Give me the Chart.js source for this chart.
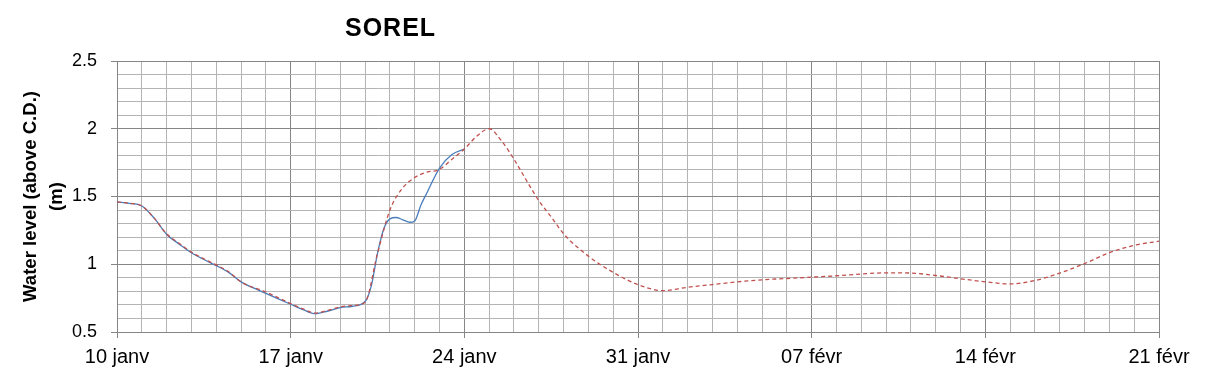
<!DOCTYPE html>
<html>
<head>
<meta charset="utf-8">
<script src="https://cdn.jsdelivr.net/npm/chart.js@4.4.1/dist/chart.umd.min.js"></script>
<style>
  html, body { margin: 0; padding: 0; background: #ffffff; }
  #wrap { position: relative; width: 1209px; height: 378px; }
  #title { position: absolute; left: 345px; top: 15px; margin: 0; font: bold 25px "Liberation Sans", Arial, sans-serif; line-height: 25px; letter-spacing: 1px; color: #000; }
  canvas { position: absolute; left: 0; top: 0; }
</style>
</head>
<body>
<div id="wrap">
  <canvas id="c" width="1209" height="378"></canvas>
  <div id="title">SOREL</div>
</div>
<script>
// Days since 10 janv
const dateLabels = ['10 janv', '17 janv', '24 janv', '31 janv', '07 févr', '14 févr', '21 févr'];

const observedDays   = [0, 0.5, 1, 1.5, 2, 2.5, 3, 3.5, 4, 4.5, 5, 5.5, 6, 6.5, 7, 7.5, 8, 8.5, 9, 9.5, 10, 10.25, 10.5, 10.75, 11, 11.25, 11.5, 11.8, 12, 12.25, 12.5, 13, 13.5, 14];
const observedLevels = [1.46, 1.45, 1.43, 1.34, 1.22, 1.15, 1.085, 1.035, 0.99, 0.94, 0.87, 0.825, 0.785, 0.745, 0.705, 0.665, 0.635, 0.655, 0.68, 0.69, 0.725, 0.84, 1.08, 1.26, 1.335, 1.345, 1.33, 1.31, 1.32, 1.437, 1.53, 1.71, 1.81, 1.85];

const forecastDays   = [0, 0.5, 1, 1.5, 2, 2.5, 3, 3.5, 4, 4.5, 5, 6, 7, 7.5, 8, 8.5, 9, 9.5, 10, 10.5, 11, 11.5, 12, 12.5, 13, 13.5, 14, 14.5, 15, 15.5, 16, 16.5, 17, 17.5, 18, 19, 20, 21, 22, 23, 24, 25, 26, 27, 28, 29, 30, 31, 32, 33, 34, 35, 36, 37, 38, 39, 40, 41, 42];
const forecastLevels = [1.46, 1.45, 1.43, 1.34, 1.225, 1.155, 1.09, 1.04, 0.995, 0.945, 0.87, 0.795, 0.71, 0.67, 0.64, 0.66, 0.685, 0.695, 0.72, 1.08, 1.40, 1.56, 1.64, 1.68, 1.70, 1.775, 1.85, 1.945, 2.0, 1.91, 1.775, 1.62, 1.47, 1.35, 1.225, 1.06, 0.94, 0.85, 0.805, 0.83, 0.85, 0.87, 0.885, 0.895, 0.905, 0.915, 0.928, 0.937, 0.935, 0.917, 0.893, 0.87, 0.855, 0.88, 0.935, 1.005, 1.085, 1.14, 1.17];

const toPoints = (xs, ys) => xs.map((x, i) => ({ x: x, y: ys[i] }));

const FONT = '"Liberation Sans", Arial, sans-serif';
const MAJOR = '#868686', MINOR = '#b4b4b4';
const isHalf = v => Math.abs(v * 2 - Math.round(v * 2)) < 1e-6;

new Chart(document.getElementById('c'), {
  type: 'line',
  data: {
    datasets: [
      {
        label: 'Observed',
        data: toPoints(observedDays, observedLevels),
        borderColor: '#4a7ebb',
        borderWidth: 1.3,
        pointRadius: 0,
        cubicInterpolationMode: 'monotone',
        fill: false,
        order: 2
      },
      {
        label: 'Forecast',
        data: toPoints(forecastDays, forecastLevels),
        borderColor: '#c0504d',
        borderWidth: 1.3,
        borderDash: [4, 3],
        pointRadius: 0,
        cubicInterpolationMode: 'monotone',
        fill: false,
        order: 1
      }
    ]
  },
  options: {
    responsive: false,
    animation: false,
    layout: { padding: { left: 0, top: 61, right: 50, bottom: 0 } },
    plugins: { legend: { display: false }, tooltip: { enabled: false }, title: { display: false } },
    scales: {
      x: {
        type: 'linear',
        min: 0, max: 42,
        afterFit: s => { s.height = 46; },
        ticks: {
          stepSize: 1, autoSkip: false, maxRotation: 0, padding: 7,
          color: '#000', font: { family: FONT, size: 20 },
          callback: v => (v % 7 === 0 ? dateLabels[v / 7] : '')
        },
        grid: {
          color: c => (c.tick && c.tick.value % 7 === 0 ? MAJOR : MINOR),
          tickColor: c => (c.tick && c.tick.value % 7 === 0 ? MAJOR : 'rgba(0,0,0,0)'),
          lineWidth: 1, tickLength: 6
        },
        border: { color: MAJOR, width: 1 }
      },
      y: {
        min: 0.5, max: 2.5,
        afterFit: s => { s.width = 117; },
        ticks: {
          stepSize: 0.1, autoSkip: false, padding: 14,
          color: '#000', font: { family: FONT, size: 18 },
          callback: v => (isHalf(v) ? String(Math.round(v * 10) / 10) : '')
        },
        grid: {
          color: c => (c.tick && isHalf(c.tick.value) ? MAJOR : MINOR),
          tickColor: c => (c.tick && isHalf(c.tick.value) ? MAJOR : 'rgba(0,0,0,0)'),
          lineWidth: 1, tickLength: 6
        },
        border: { color: MAJOR, width: 1 },
        title: {
          display: true,
          text: ['Water level (above C.D.)', '(m)'],
          color: '#000',
          font: { family: FONT, size: 18.6, weight: 'bold', lineHeight: '26px' },
          padding: { top: 18, bottom: 0 }
        }
      }
    }
  }
});
</script>
</body>
</html>
